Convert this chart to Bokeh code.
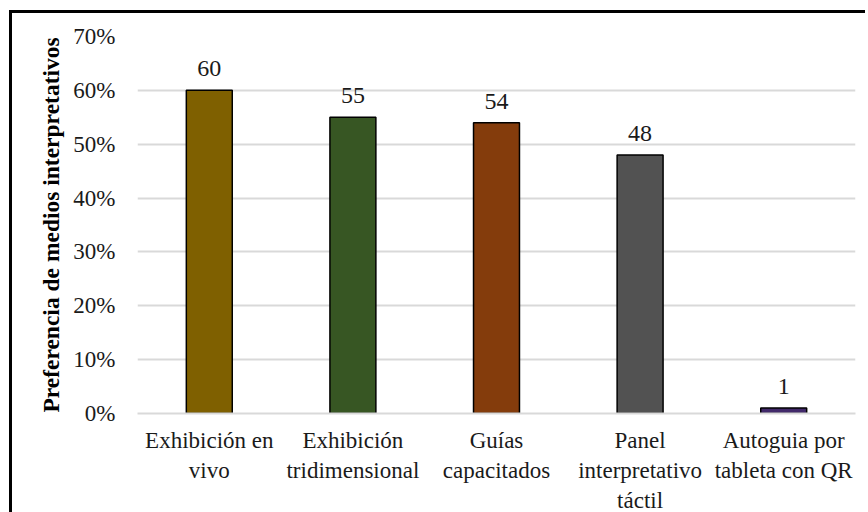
from bokeh.plotting import figure
from bokeh.models import NumeralTickFormatter, FixedTicker, ColumnDataSource
from bokeh.core.properties import value
from bokeh.embed import file_html
from bokeh.resources import INLINE

categories = ["Exhibición en\nvivo", "Exhibición\ntridimensional", "Guías\ncapacitados",
              "Panel\ninterpretativo\ntáctil", "Autoguia por\ntableta con QR"]
values = [60, 55, 54, 48, 1]
colors = ["#7F6000", "#375623", "#843C0C", "#525252", "#41296A"]
y_ticks = [0, 0.1, 0.2, 0.3, 0.4, 0.5, 0.6, 0.7]
y_title = "Preferencia de medios interpretativos"

FONT = "Liberation Serif"

src = ColumnDataSource(dict(
    cat=categories,
    frac=[v / 100 for v in values],
    label=[str(v) for v in values],
    color=colors,
))

p = figure(x_range=categories, y_range=(0, 0.7), width=856, height=502,
           output_backend="svg", toolbar_location=None,
           min_border_left=125, min_border_right=13, min_border_top=23, min_border_bottom=95)

p.styles = {"border-left": "3px solid black", "border-top": "3px solid black",
            "margin-left": "9px", "margin-top": "10px"}

p.vbar(x="cat", top="frac", width=0.32, source=src, fill_color="color",
       line_color="black", line_width=1.5)

p.text(x="cat", y="frac", text="label", source=src, text_align="center",
       text_baseline="bottom", y_offset=-14, text_font=value(FONT),
       text_font_size="24px", text_color="#1a1a1a")

p.outline_line_color = None
p.xgrid.grid_line_color = None
p.ygrid.grid_line_color = "#D9D9D9"
p.ygrid.grid_line_width = 2

p.yaxis.ticker = FixedTicker(ticks=y_ticks)
p.yaxis.formatter = NumeralTickFormatter(format="0%")
p.yaxis.axis_line_color = None
p.yaxis.major_tick_line_color = None
p.yaxis.minor_tick_line_color = None
p.yaxis.major_label_text_font = FONT
p.yaxis.major_label_text_font_size = "23px"
p.yaxis.major_label_text_color = "#1a1a1a"
p.yaxis.major_label_standoff = 16
p.yaxis.axis_label = y_title
p.yaxis.axis_label_text_font = FONT
p.yaxis.axis_label_text_font_style = "bold"
p.yaxis.axis_label_text_font_size = "23.5px"
p.yaxis.axis_label_text_color = "#000000"
p.yaxis.axis_label_standoff = 6

p.xaxis.axis_line_color = "#D9D9D9"
p.xaxis.axis_line_width = 2
p.xaxis.major_tick_line_color = None
p.xaxis.minor_tick_line_color = None
p.xaxis.major_label_text_font = FONT
p.xaxis.major_label_text_font_size = "23px"
p.xaxis.major_label_text_color = "#1a1a1a"
p.xaxis.major_label_standoff = 8

p.background_fill_color = "white"
p.border_fill_color = "white"

open("out.html", "w").write(file_html(p, INLINE))
